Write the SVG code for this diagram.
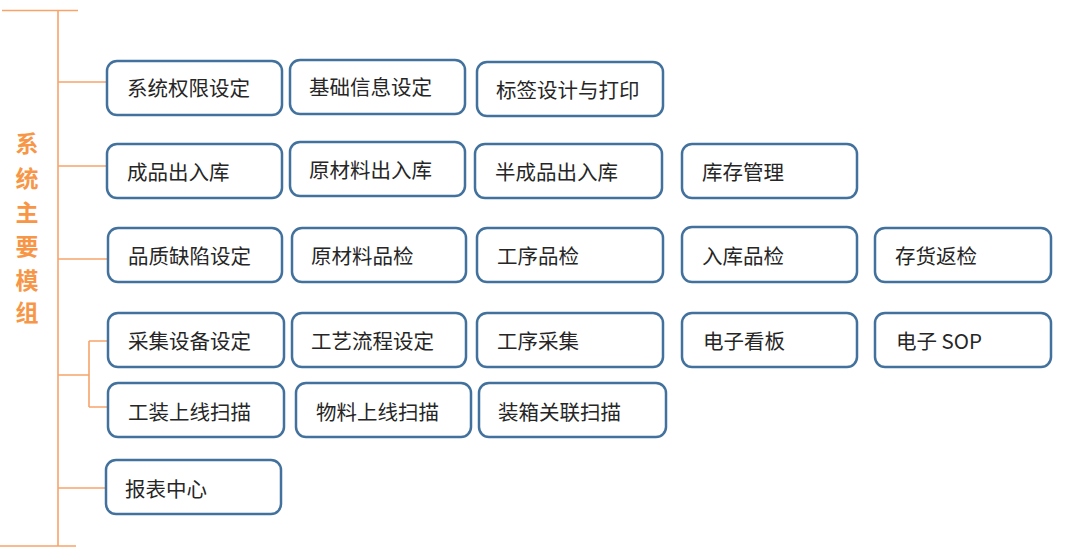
<svg xmlns="http://www.w3.org/2000/svg" width="1077" height="553" viewBox="0 0 1077 553">
<style>
.b{fill:#fff;stroke:#41719c;stroke-width:2.5}
.t{font-family:"Noto Sans CJK SC","Liberation Sans",sans-serif;font-size:20.5px;fill:#262626}
.c{stroke:#f7a46b;stroke-width:1.6;fill:none}
.h{font-family:"Noto Sans CJK SC",sans-serif;font-size:23px;font-weight:bold;fill:#f79646;text-anchor:middle}
</style>
<rect width="1077" height="553" fill="#fff"/>
<g id="connectors">
<path class="c" d="M2 10.5H78M58 10.5V546M0 546H76"/>
<path class="c" d="M58 82H107M58 166H107M58 259H107M58 375H89M89 341V407M89 341H109M89 407H109M58 488H105"/>
</g>
<g id="title">
<text class="h" x="27" y="152">系</text>
<text class="h" x="27" y="187">统</text>
<text class="h" x="27" y="221">主</text>
<text class="h" x="27" y="255">要</text>
<text class="h" x="27" y="289">模</text>
<text class="h" x="27" y="321">组</text>
</g>
<g id="n1"><rect class="b" x="107" y="61" width="175" height="54" rx="10"/><text class="t" x="127" y="96">系统权限设定</text></g>
<g id="n2"><rect class="b" x="290" y="60" width="175" height="54" rx="10"/><text class="t" x="309" y="95">基础信息设定</text></g>
<g id="n3"><rect class="b" x="477" y="62" width="186" height="54" rx="10"/><text class="t" x="496" y="98">标签设计与打印</text></g>
<g id="n4"><rect class="b" x="107" y="144" width="175" height="54" rx="10"/><text class="t" x="127" y="180">成品出入库</text></g>
<g id="n5"><rect class="b" x="290" y="142" width="175" height="54" rx="10"/><text class="t" x="309" y="178">原材料出入库</text></g>
<g id="n6"><rect class="b" x="475" y="144" width="187" height="54" rx="10"/><text class="t" x="495" y="180">半成品出入库</text></g>
<g id="n7"><rect class="b" x="682" y="144" width="175" height="54" rx="10"/><text class="t" x="702" y="180">库存管理</text></g>
<g id="n8"><rect class="b" x="108" y="228" width="174" height="54" rx="10"/><text class="t" x="128" y="264">品质缺陷设定</text></g>
<g id="n9"><rect class="b" x="292" y="228" width="174" height="54" rx="10"/><text class="t" x="311" y="264">原材料品检</text></g>
<g id="n10"><rect class="b" x="477" y="228" width="186" height="54" rx="10"/><text class="t" x="497" y="264">工序品检</text></g>
<g id="n11"><rect class="b" x="682" y="227" width="175" height="55" rx="10"/><text class="t" x="702" y="264">入库品检</text></g>
<g id="n12"><rect class="b" x="875" y="228" width="176" height="54" rx="10"/><text class="t" x="895" y="264">存货返检</text></g>
<g id="n13"><rect class="b" x="108" y="313" width="176" height="54" rx="10"/><text class="t" x="128" y="349">采集设备设定</text></g>
<g id="n14"><rect class="b" x="292" y="313" width="174" height="54" rx="10"/><text class="t" x="311" y="349">工艺流程设定</text></g>
<g id="n15"><rect class="b" x="477" y="313" width="186" height="54" rx="10"/><text class="t" x="497" y="349">工序采集</text></g>
<g id="n16"><rect class="b" x="682" y="313" width="175" height="54" rx="10"/><text class="t" x="703" y="349">电子看板</text></g>
<g id="n17"><rect class="b" x="875" y="313" width="176" height="54" rx="10"/><text class="t" x="896" y="349">电子 SOP</text></g>
<g id="n18"><rect class="b" x="108" y="383" width="176" height="54" rx="10"/><text class="t" x="128" y="420">工装上线扫描</text></g>
<g id="n19"><rect class="b" x="296" y="383" width="175" height="54" rx="10"/><text class="t" x="316" y="420">物料上线扫描</text></g>
<g id="n20"><rect class="b" x="479" y="383" width="187" height="54" rx="10"/><text class="t" x="498" y="420">装箱关联扫描</text></g>
<g id="n21"><rect class="b" x="106" y="460" width="175" height="54" rx="10"/><text class="t" x="125" y="497">报表中心</text></g>
</svg>
